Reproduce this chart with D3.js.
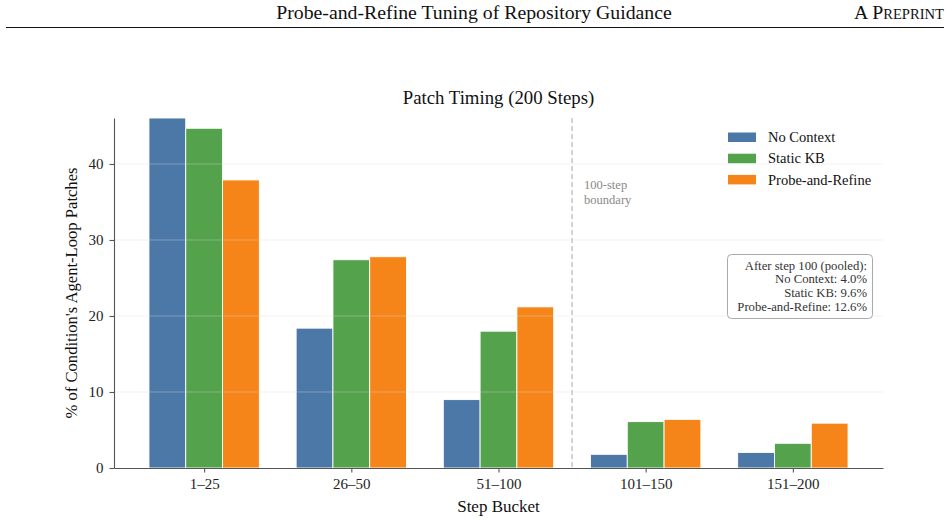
<!DOCTYPE html>
<html>
<head>
<meta charset="utf-8">
<script src="https://cdn.jsdelivr.net/npm/d3@7"></script>
<style>
  html, body { margin: 0; padding: 0; background: #fff; }
  svg { display: block; font-family: "Liberation Serif", "Times New Roman", serif; }
</style>
</head>
<body>
<svg id="chart" width="948" height="522"></svg>
<script>
// ---- data ----
const categories = ["1\u201325", "26\u201350", "51\u2013100", "101\u2013150", "151\u2013200"];
const seriesNames = ["No Context", "Static KB", "Probe-and-Refine"];
const noContext = [46.05, 18.4, 9.0, 1.8, 2.05];
const staticKB = [44.7, 27.4, 18.0, 6.1, 3.25];
const probeRefine = [37.9, 27.8, 21.2, 6.4, 5.9];
const yTicks = [0, 10, 20, 30, 40];
const yLimit = 46.05;
const boundaryAt = 2.5;
const pooledLines = ["After step 100 (pooled):", "No Context: 4.0%", "Static KB: 9.6%", "Probe-and-Refine: 12.6%"];
const colors = ["#4C78A8", "#54A24B", "#F58518"];

const series = [noContext, staticKB, probeRefine];

const svg = d3.select("#chart");
const m = { left: 114, right: 883, top: 118, bottom: 468 };

// header
svg.append("text").attr("x", 474).attr("y", 19).attr("text-anchor", "middle")
  .attr("font-size", 19.8).attr("fill", "#111").text("Probe-and-Refine Tuning of Repository Guidance");
const pp = svg.append("text").attr("x", 944).attr("y", 19).attr("text-anchor", "end").attr("fill", "#111");
pp.append("tspan").attr("font-size", 19.8).text("A P");
pp.append("tspan").attr("font-size", 14.6).text("REPRINT");
svg.append("line").attr("x1", 6).attr("x2", 944).attr("y1", 27.5).attr("y2", 27.5)
  .attr("stroke", "#111").attr("stroke-width", 1);

const nBars = series.length;
const barW = 0.25;
const x = d3.scaleLinear().domain([-0.6125, categories.length - 1 + 0.6125]).range([m.left, m.right]);
const y = d3.scaleLinear().domain([0, yLimit]).range([m.bottom, m.top]);

// bars
series.forEach((vals, si) => {
  svg.append("g").selectAll("rect").data(vals).join("rect")
    .attr("x", (d, i) => x(i + (si - (nBars - 1) / 2) * barW - barW / 2))
    .attr("width", x(barW) - x(0))
    .attr("y", d => y(d))
    .attr("height", d => y(0) - y(d))
    .attr("fill", colors[si])
    .attr("stroke", "#fff").attr("stroke-width", 0.9);
});

// gridlines (on top, faint)
svg.append("g").selectAll("line").data(yTicks.filter(t => t > 0)).join("line")
  .attr("x1", m.left).attr("x2", m.right)
  .attr("y1", d => y(d)).attr("y2", d => y(d))
  .attr("stroke", "#dddddd").attr("stroke-opacity", 0.45).attr("stroke-width", 0.8);

// boundary line
svg.append("line").attr("x1", x(boundaryAt)).attr("x2", x(boundaryAt))
  .attr("y1", m.top).attr("y2", m.bottom)
  .attr("stroke", "#b8b8b8").attr("stroke-width", 1.2).attr("stroke-dasharray", "5,3");
const bt = svg.append("text").attr("x", x(boundaryAt) + 12).attr("y", 189)
  .attr("font-size", 12.5).attr("fill", "#888");
bt.append("tspan").attr("x", x(boundaryAt) + 12).text("100-step");
bt.append("tspan").attr("x", x(boundaryAt) + 12).attr("dy", 15).text("boundary");

// axes
const xAxis = d3.axisBottom(x).tickValues(d3.range(categories.length))
  .tickFormat(i => categories[i]).tickSize(4.5).tickPadding(6).tickSizeOuter(0);
const gx = svg.append("g").attr("transform", `translate(0,${m.bottom})`).call(xAxis);
gx.select(".domain").attr("stroke", "#555").attr("stroke-width", 1.1);
gx.selectAll(".tick line").attr("stroke", "#555").attr("stroke-width", 1.1);
gx.selectAll(".tick text").attr("font-size", 15).attr("fill", "#222")
  .attr("font-family", "Liberation Serif, serif");

const yAxis = d3.axisLeft(y).tickValues(yTicks).tickSize(4.5).tickPadding(6).tickSizeOuter(0);
const gy = svg.append("g").attr("transform", `translate(${m.left},0)`).call(yAxis);
gy.select(".domain").attr("stroke", "#555").attr("stroke-width", 1.1);
gy.selectAll(".tick line").attr("stroke", "#555").attr("stroke-width", 1.1);
gy.selectAll(".tick text").attr("font-size", 15).attr("fill", "#222")
  .attr("font-family", "Liberation Serif, serif");

// labels
svg.append("text").attr("x", (m.left + m.right) / 2).attr("y", 103.5).attr("text-anchor", "middle")
  .attr("font-size", 18.8).attr("fill", "#111").text("Patch Timing (200 Steps)");
svg.append("text").attr("x", (m.left + m.right) / 2).attr("y", 512).attr("text-anchor", "middle")
  .attr("font-size", 17).attr("fill", "#111").text("Step Bucket");
svg.append("text").attr("transform", `translate(77,${(m.top + m.bottom) / 2}) rotate(-90)`)
  .attr("text-anchor", "middle").attr("font-size", 16.6).attr("fill", "#111")
  .text("% of Condition's Agent-Loop Patches");

// legend
const lg = svg.append("g").attr("transform", "translate(728,137)");
seriesNames.forEach((name, i) => {
  const row = lg.append("g").attr("transform", `translate(0,${i * 21.2})`);
  row.append("rect").attr("x", 0).attr("y", -4.5).attr("width", 28).attr("height", 9.5).attr("fill", colors[i]);
  row.append("text").attr("x", 40).attr("y", 5.2).attr("font-size", 14.5).attr("fill", "#111").text(name);
});

// pooled box
svg.append("rect").attr("x", 727.5).attr("y", 254.5).attr("width", 145).attr("height", 64)
  .attr("rx", 4).attr("fill", "#fff").attr("fill-opacity", 0.9)
  .attr("stroke", "#aaa").attr("stroke-width", 1);
const pt = svg.append("text").attr("text-anchor", "end").attr("font-size", 12.7).attr("fill", "#333");
pooledLines.forEach((l, i) => {
  pt.append("tspan").attr("x", 867).attr("y", 269.5 + i * 13.7).text(l);
});
</script>
</body>
</html>
